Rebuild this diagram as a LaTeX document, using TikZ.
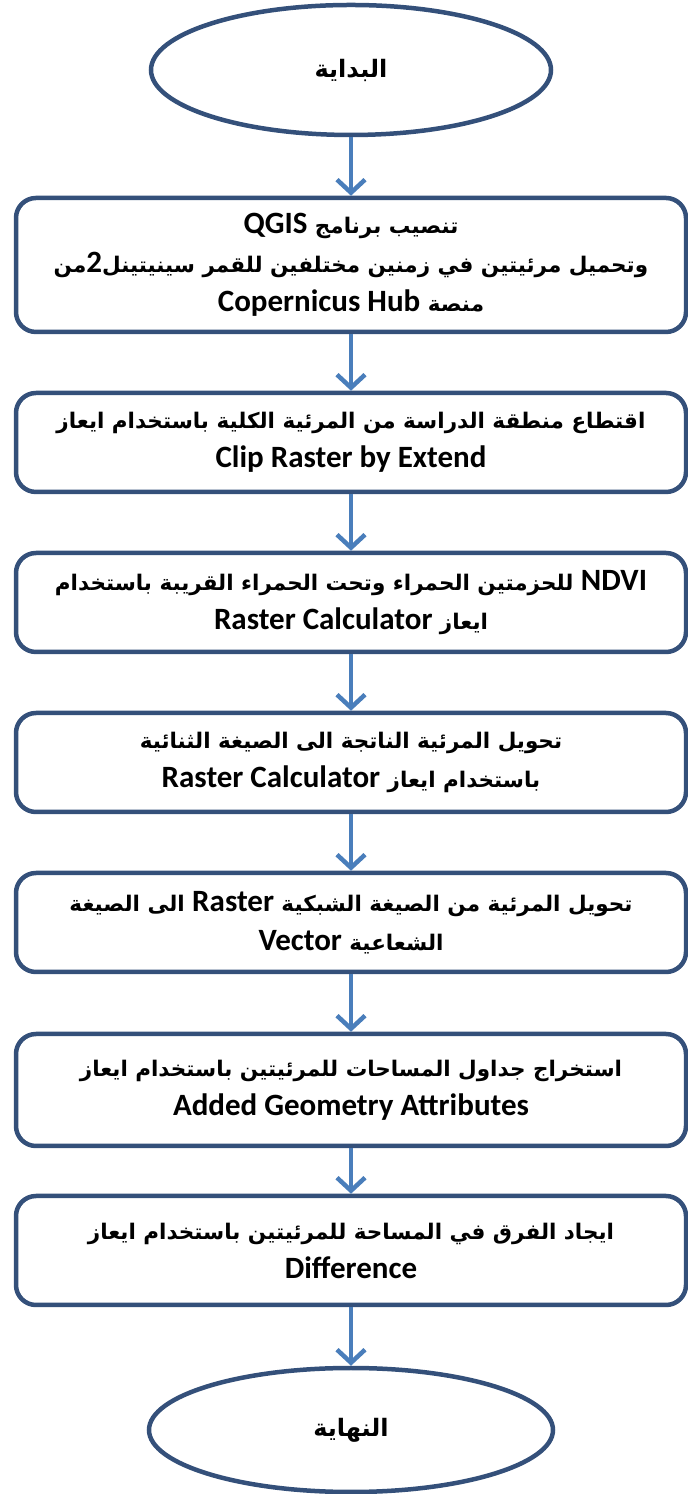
\documentclass[tikz,border=0pt]{standalone}
\usepackage{fontspec}
\setmainfont{Carlito}
\newfontfamily\latinfont{Carlito}
\newfontfamily\arabicfont[Script=Arabic]{DejaVu Sans}
\TeXXeTstate=1
\usetikzlibrary{shapes.geometric,arrows.meta}

\definecolor{boxline}{HTML}{34507A}
\definecolor{arrowblue}{HTML}{4A7EBB}

\newcommand{\rtl}[1]{\beginR #1\endR}
\newcommand{\lword}[1]{\beginL{\latinfont\fontsize{31}{39}\selectfont #1}\endL}
\newcommand{\lline}[1]{{\latinfont\fontsize{31}{39}\selectfont #1}}

\tikzset{
  flowtext/.style={font=\arabicfont\bfseries\fontsize{21.5}{39}\selectfont, align=center},
  stepbox/.style={flowtext, draw=boxline, line width=4.5pt, fill=white,
    rounded corners=20pt, minimum width=670pt, inner sep=0pt},
  termnode/.style={flowtext, font=\arabicfont\bfseries\fontsize{24}{30}\selectfont,
    ellipse, draw=boxline, line width=4.5pt, fill=white, inner sep=0pt},
  flowarrow/.style={draw=arrowblue, line width=4.5pt,
    -{Straight Barb[length=13pt,width=28pt]}}
}

\begin{document}
\begin{tikzpicture}[x=1pt,y=1pt]
  \useasboundingbox (0,0) rectangle (688,1494);

  \node[termnode, minimum width=400pt, minimum height=130pt] (start) at (351,1424)
    {\rtl{البداية}};
  %%%%%%%%%%%%%%%%%%%%%
  \node[stepbox, minimum height=134pt] (load) at (351,1229)
    {\rtl{تنصيب برنامج \lword{QGIS}}\\
     \rtl{وتحميل مرئيتين في زمنين مختلفين للقمر سينيتينل\lword{2}من}\\
     \rtl{منصة \lword{Copernicus Hub}}};
  \node[stepbox, minimum height=99pt] (clip) at (351,1051.5)
    {\rtl{اقتطاع منطقة الدراسة من المرئية الكلية باستخدام ايعاز}\\
     \lline{Clip Raster by Extend}};
  \node[stepbox, minimum height=99pt] (ndvi) at (351,891.5)
    {\rtl{\lword{NDVI} للحزمتين الحمراء وتحت الحمراء القريبة باستخدام}\\
     \rtl{ايعاز \lword{Raster Calculator}}};
  \node[stepbox, minimum height=99pt] (binary) at (351,731.5)
    {\rtl{تحويل المرئية الناتجة الى الصيغة الثنائية}\\
     \rtl{باستخدام ايعاز \lword{Raster Calculator}}};
  \node[stepbox, minimum height=99pt] (vector) at (351,571.5)
    {\rtl{تحويل المرئية من الصيغة الشبكية \lword{Raster} الى الصيغة}\\
     \rtl{الشعاعية \lword{Vector}}};
  \node[stepbox, minimum height=112pt] (areas) at (351,404)
    {\rtl{استخراج جداول المساحات للمرئيتين باستخدام ايعاز}\\
     \lline{Added Geometry Attributes}};
  \node[stepbox, minimum height=109pt] (diff) at (351,243.5)
    {\rtl{ايجاد الفرق في المساحة للمرئيتين باستخدام ايعاز}\\
     \lline{Difference}};
  %%%%%%%%%%%%%%%%%%%%%
  \node[termnode, minimum width=404pt, minimum height=124pt] (finish) at (351,64)
    {\rtl{النهاية}};

  \draw[flowarrow] (start.south) -- (load.north);
  \draw[flowarrow] (load.south) -- (clip.north);
  \draw[flowarrow] (clip.south) -- (ndvi.north);
  \draw[flowarrow] (ndvi.south) -- (binary.north);
  \draw[flowarrow] (binary.south) -- (vector.north);
  \draw[flowarrow] (vector.south) -- (areas.north);
  \draw[flowarrow] (areas.south) -- (diff.north);
  \draw[flowarrow] (diff.south) -- (finish.north);
\end{tikzpicture}
\end{document}
